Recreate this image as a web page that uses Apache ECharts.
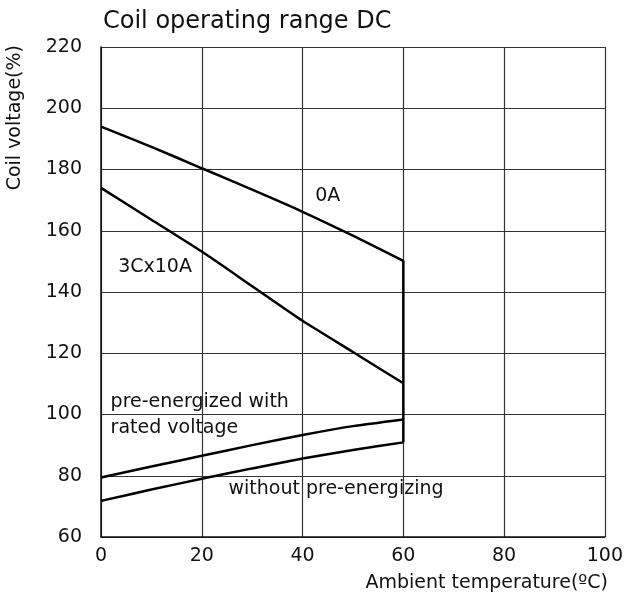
<!DOCTYPE html>
<html>
<head>
<meta charset="utf-8">
<script src="https://cdn.jsdelivr.net/npm/echarts@6/dist/echarts.min.js"></script>
<style>
  html, body { margin: 0; padding: 0; background: #fff; }
  #chart { width: 626px; height: 597px; }
</style>
</head>
<body>
<div id="chart"></div>
<script>
// temperatures (ºC) at which curves were read
var temps = [0, 10, 20, 30, 40, 50, 60];
// coil voltage (%) per curve
var curve0A = [194, 187.4, 180.4, 173.4, 166.2, 158.4, 150.2];
var curve3Cx10A = [174, 163.6, 153.2, 141.9, 130.6, 120.4, 110.2];
var curvePreEnergized = [79.4, 83, 86.5, 90, 93.3, 96.2, 98.4];
var curveWithout = [71.8, 75.5, 79, 82.4, 85.6, 88.4, 90.9];
// vertical limit at 60 ºC
var limitTemp = 60;
var limitTop = 150.2;
var limitBottom = 90.9;
// curve annotations: [x, y, text]
var curveLabels = [
  [42.5, 171.3, "0A"],
  [3.4, 148.3, "3Cx10A"],
  [1.9, 103.9, "pre-energized with"],
  [1.9, 95.5, "rated voltage"],
  [25.3, 75.6, "without pre-energizing"]
];
var xTicks = [0, 20, 40, 60, 80, 100];
var yTicks = [60, 80, 100, 120, 140, 160, 180, 200, 220];

var font = "DejaVu Sans";
function pairs(ys) {
  return temps.map(function (t, i) { return [t, ys[i]]; });
}
function curve(ys) {
  return {
    type: "line",
    data: pairs(ys),
    smooth: 0.2,
    symbol: "none",
    lineStyle: { color: "#000", width: 2.5 },
    silent: true
  };
}

var myChart = echarts.init(document.getElementById("chart"));
var option = {
  animation: false,
  textStyle: { fontFamily: font },
  title: {
    text: "Coil operating range DC",
    left: 98,
    top: 5,
    textStyle: { fontFamily: font, fontSize: 24, fontWeight: "normal", color: "#111" }
  },
  grid: { left: 101, right: 19, top: 47, bottom: 60, containLabel: false },
  xAxis: {
    type: "value",
    min: xTicks[0],
    max: xTicks[xTicks.length - 1],
    interval: 20,
    axisLine: { show: true, lineStyle: { color: "#111", width: 1.5 } },
    axisTick: { show: false },
    splitLine: { show: true, lineStyle: { color: "#333", width: 1.2 } },
    axisLabel: { color: "#111", fontSize: 19, margin: 10, fontFamily: font }
  },
  yAxis: {
    type: "value",
    min: yTicks[0],
    max: yTicks[yTicks.length - 1],
    interval: 20,
    axisLine: { show: true, lineStyle: { color: "#111", width: 1.5 } },
    axisTick: { show: false },
    splitLine: { show: true, lineStyle: { color: "#333", width: 1.2 } },
    axisLabel: { color: "#111", fontSize: 19, margin: 19, fontFamily: font }
  },
  graphic: [
    {
      type: "text",
      left: 6,
      top: 45,
      rotation: Math.PI / 2,
      style: { text: "Coil voltage(%)", fontSize: 19, fill: "#111", fontFamily: font }
    },
    {
      type: "text",
      right: 18,
      top: 574,
      style: { text: "Ambient temperature(ºC)", fontSize: 19, fill: "#111", fontFamily: font }
    }
  ],
  series: [
    curve(curve0A),
    curve(curve3Cx10A),
    curve(curvePreEnergized),
    curve(curveWithout),
    {
      type: "line",
      data: [[limitTemp, limitTop], [limitTemp, limitBottom]],
      symbol: "none",
      lineStyle: { color: "#000", width: 2.5 },
      silent: true
    },
    {
      type: "scatter",
      data: curveLabels,
      symbolSize: 0,
      silent: true,
      itemStyle: { opacity: 1 },
      label: {
        show: true,
        position: "right",
        distance: 0,
        formatter: function (p) { return p.data[2]; },
        color: "#111",
        fontSize: 19,
        fontFamily: font
      }
    }
  ]
};
myChart.setOption(option);
</script>
</body>
</html>
